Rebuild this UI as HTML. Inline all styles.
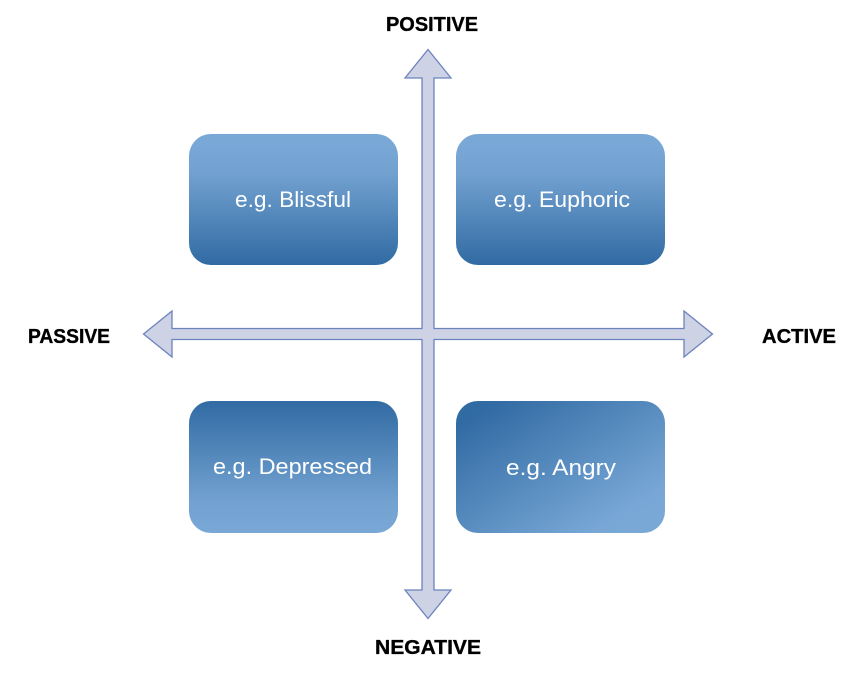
<!DOCTYPE html>
<html>
<head>
<meta charset="utf-8">
<style>
html,body{margin:0;padding:0;background:#fff;width:854px;height:675px;overflow:hidden}
svg{display:block}
text{font-family:"Liberation Sans",sans-serif}
.l{font-weight:bold;font-size:20px;fill:#000;stroke:#000;stroke-width:.35px}
.b{font-size:22px;fill:#fff}
</style>
</head>
<body>
<svg width="854" height="675" viewBox="0 0 854 675" xmlns="http://www.w3.org/2000/svg">
<defs>
<linearGradient id="g1" x1="0" y1="0" x2="0" y2="1"><stop offset="0.08" stop-color="#79a8d7"/><stop offset="0.3" stop-color="#72a1d0"/><stop offset="1" stop-color="#316ba3"/></linearGradient>
<linearGradient id="g2" x1="0" y1="0" x2="0" y2="1"><stop offset="0" stop-color="#316ba3"/><stop offset="0.75" stop-color="#72a1d0"/><stop offset="1" stop-color="#79a8d7"/></linearGradient>
<linearGradient id="g3" gradientUnits="userSpaceOnUse" x1="508" y1="385" x2="608" y2="545"><stop offset="0.04" stop-color="#316ba3"/><stop offset="0.9" stop-color="#78a7d6"/><stop offset="1" stop-color="#79a8d7"/></linearGradient>
</defs>
<rect x="189" y="134" width="209" height="131" rx="22" fill="url(#g1)"/>
<rect x="456" y="134" width="209" height="131" rx="22" fill="url(#g1)"/>
<rect x="189" y="401" width="209" height="132" rx="22" fill="url(#g2)"/>
<rect x="456" y="401" width="209" height="132" rx="22" fill="url(#g3)"/>
<path d="M428 49.5L451 78H434V328.5H684V311L712.5 334L684 357V339.5H434V590H451L428 618.5L405 590H422V339.5H172V357L143.5 334L172 311V328.5H422V78H405Z" fill="#cdd2e5" stroke="#6d83bd" stroke-width="1.3" stroke-linejoin="miter"/>
<text class="b" x="235" y="207" textLength="116" lengthAdjust="spacingAndGlyphs">e.g. Blissful</text>
<text class="b" x="494" y="207" textLength="136" lengthAdjust="spacingAndGlyphs">e.g. Euphoric</text>
<text class="b" x="213" y="474" textLength="159" lengthAdjust="spacingAndGlyphs">e.g. Depressed</text>
<text class="b" x="506" y="475" textLength="110" lengthAdjust="spacingAndGlyphs">e.g. Angry</text>
<text class="l" x="386" y="31" textLength="92" lengthAdjust="spacingAndGlyphs">POSITIVE</text>
<text class="l" x="375" y="654" textLength="106" lengthAdjust="spacingAndGlyphs">NEGATIVE</text>
<text class="l" x="28" y="343" textLength="82" lengthAdjust="spacingAndGlyphs">PASSIVE</text>
<text class="l" x="762" y="343" textLength="74" lengthAdjust="spacingAndGlyphs">ACTIVE</text>
</svg>
</body>
</html>
